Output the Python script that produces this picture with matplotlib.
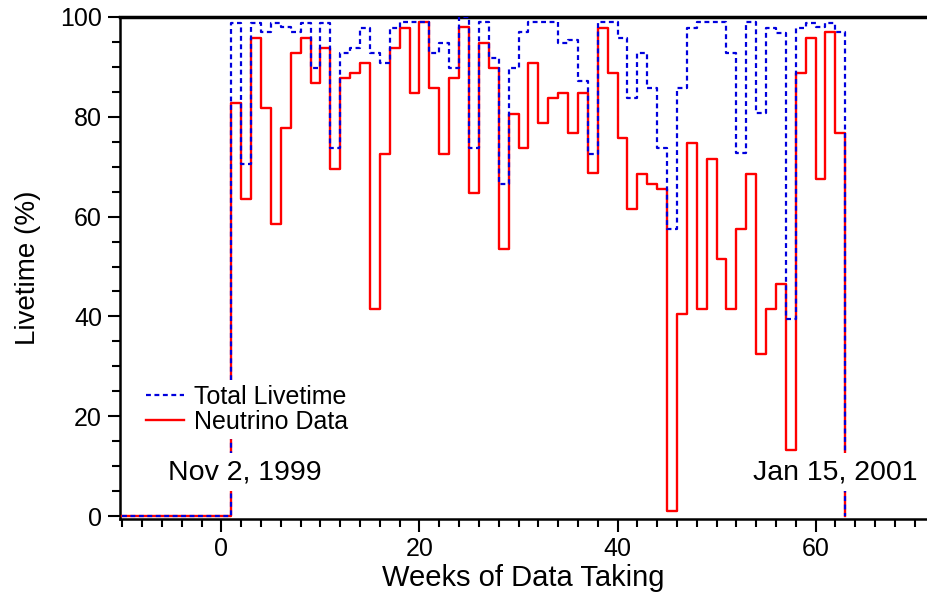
import numpy as np
import matplotlib
matplotlib.use("Agg")
import matplotlib.pyplot as plt

plt.rcParams['font.family'] = ['Liberation Sans', 'DejaVu Sans']

# weekly livetime values, weeks 1..62 (step spans week w -> w+1)
total_livetime = [98.7, 70.6, 98.7, 96.9, 98.7, 97.9, 96.9, 98.7, 89.7, 98.7,
                  73.7, 92.7, 93.7, 97.8, 92.7, 90.7, 97.8, 98.9, 98.9, 98.9,
                  92.7, 94.8, 89.7, 99.9, 73.7, 98.9, 91.7, 66.6, 89.7, 96.9,
                  98.9, 98.9, 98.9, 94.7, 95.3, 87.2, 72.6, 98.9, 98.9, 95.8,
                  83.7, 92.7, 85.7, 73.7, 57.5, 85.7, 97.7, 98.9, 98.9, 98.9,
                  92.7, 72.7, 98.9, 80.7, 97.7, 96.7, 39.4, 97.7, 98.7, 97.9,
                  98.7, 96.9]
neutrino_data = [82.7, 63.6, 95.7, 81.7, 58.6, 77.8, 92.8, 95.7, 86.8, 93.8,
                 69.6, 87.7, 88.8, 90.8, 41.4, 72.6, 93.8, 97.8, 84.7, 98.9,
                 85.7, 72.6, 87.7, 97.9, 64.7, 94.8, 89.7, 53.6, 80.6, 73.7,
                 90.8, 78.7, 83.7, 84.7, 76.7, 84.7, 68.7, 97.8, 88.7, 75.7,
                 61.6, 68.5, 66.6, 65.5, 1.0, 40.4, 74.7, 41.5, 71.6, 51.6,
                 41.5, 57.5, 68.6, 32.4, 41.4, 46.5, 13.2, 88.7, 95.7, 67.6,
                 96.9, 76.7]

first_week = 1
start_week = -10

weeks = np.arange(first_week, first_week + len(neutrino_data) + 1)
xs = np.concatenate([[start_week], weeks])
y_nu = np.concatenate([[0], neutrino_data, [0]])
y_tot = np.concatenate([[0], total_livetime, [0]])

fig = plt.figure(figsize=(9.27, 5.99), dpi=100)
ax = fig.add_axes([120 / 927, 1 - 519 / 599, 1 - 120 / 927, (519 - 17) / 599])

ax.step(xs, y_nu, where='post', color='#ff0000', lw=1.7, label='Neutrino Data', zorder=3)
ax.step(xs, y_tot, where='post', color='#0000dd', lw=1.6, ls=(0, (2.2, 1.6)),
        label='Total Livetime', zorder=4)

ax.set_xlim(-10.25, 71.26)
ax.set_ylim(-0.6, 100)

ax.set_xticks([0, 20, 40, 60])
ax.set_xticks(np.arange(-10, 72, 2), minor=True)
ax.set_yticks(np.arange(0, 101, 20))
ax.set_yticks(np.arange(0, 101, 5), minor=True)
ax.tick_params(which='major', direction='out', length=9, width=1.5, labelsize=18, pad=4)
ax.tick_params(which='minor', direction='out', length=6, width=1.5)

ax.spines['right'].set_visible(False)
ax.spines['top'].set_linewidth(2.5)
ax.spines['left'].set_linewidth(1.8)
ax.spines['bottom'].set_linewidth(1.8)

ax.set_xlabel('Weeks of Data Taking', fontsize=21, labelpad=2)
ax.set_ylabel('Livetime (%)', fontsize=20, labelpad=14)

handles, labels = ax.get_legend_handles_labels()
leg = ax.legend(handles[::-1], labels[::-1], loc='upper left',
                bbox_to_anchor=(0.010, 0.302), fontsize=18, frameon=True,
                facecolor='white', edgecolor='none', framealpha=1,
                handlelength=1.55, handletextpad=0.4, labelspacing=0.05,
                borderpad=0.2, fancybox=False)
leg.set_zorder(6)

box = dict(facecolor='white', edgecolor='none', pad=4)
ax.text(2.4, 8.8, 'Nov 2, 1999', fontsize=20.5, ha='center', va='center',
        bbox=box, zorder=7)
ax.text(62.0, 8.8, 'Jan 15, 2001', fontsize=20.5, ha='center', va='center',
        bbox=box, zorder=7)

fig.savefig('out.png', dpi=100)
